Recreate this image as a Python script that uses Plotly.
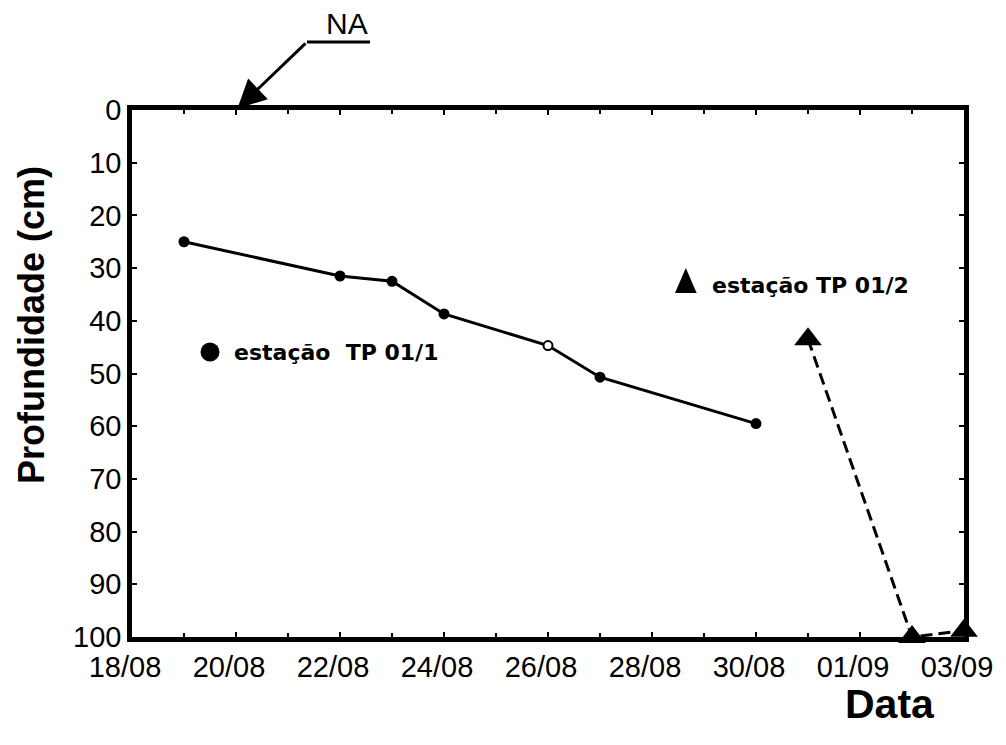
import plotly.graph_objects as go

YEAR = "2001"

# Station TP 01/1 (dd/mm, depth in cm)
tp1_dates = ["19/08", "22/08", "23/08", "24/08", "26/08", "27/08", "30/08"]
tp1_depth = [25.0, 31.5, 32.5, 38.7, 44.7, 50.7, 59.5]

# Station TP 01/2
tp2_dates = ["31/08", "02/09", "03/09"]
tp2_depth = [43.5, 100.0, 98.8]

x_start = "18/08"
x_end = "03/09"


def to_iso(dm):
    d, m = dm.split("/")
    return f"{YEAR}-{m}-{d}"


L, R, T, B = 132, 42, 110, 108
W, H = 1006, 745
PW, PH = W - L - R, H - T - B


def px(x):
    return (x - L) / PW


def py(y):
    return 1 - (y - T) / PH


fig = go.Figure()

fig.add_trace(go.Scatter(
    x=[to_iso(d) for d in tp1_dates], y=tp1_depth,
    mode="lines+markers",
    line=dict(color="black", width=3),
    marker=dict(symbol="circle", size=9,
                color=["black", "black", "black", "black", "white", "black", "black"],
                line=dict(color="black", width=2)),
    cliponaxis=False, showlegend=False,
))

fig.add_trace(go.Scatter(
    x=[to_iso(d) for d in tp2_dates], y=tp2_depth,
    mode="lines+markers",
    line=dict(color="black", width=3, dash="12px,6px"),
    marker=dict(symbol="triangle-up", size=24, color="black"),
    cliponaxis=False, showlegend=False,
))

tickfont = dict(family="Liberation Sans, Arial", size=29, color="black")

fig.update_xaxes(
    type="date", range=[to_iso(x_start), to_iso(x_end)],
    tick0=to_iso(x_start), dtick=2 * 86400000, tickformat="%d/%m",
    ticks="inside", ticklen=5, tickwidth=2, tickcolor="black",
    minor=dict(dtick=86400000, ticks="inside", ticklen=4, tickwidth=1.5, tickcolor="black"),
    showline=True, linewidth=4.5, linecolor="black", mirror="ticks",
    showgrid=False, zeroline=False, tickfont=tickfont, ticklabelshift=-7,
    layer="below traces",
)
fig.update_yaxes(
    range=[100, 0], tick0=0, dtick=10,
    ticks="inside", ticklen=5, tickwidth=2, tickcolor="black",
    showline=True, linewidth=4.5, linecolor="black", mirror="ticks",
    showgrid=False, zeroline=False, tickfont=tickfont,
    layer="below traces",
)

bold = dict(family="Liberation Sans, Arial", color="black")
annotations = [
    dict(text="<b>Profundidade (cm)</b>", xref="paper", yref="paper",
         x=px(31), y=py(325), textangle=-90, showarrow=False,
         xanchor="center", yanchor="middle", font=dict(size=36, **bold)),
    dict(text="<b>Data</b>", xref="paper", yref="paper",
         x=px(890), y=py(704), showarrow=False,
         xanchor="center", yanchor="middle", font=dict(size=41, **bold)),
    dict(text="NA", xref="paper", yref="paper",
         x=px(347), y=py(23), showarrow=False,
         xanchor="center", yanchor="middle",
         font=dict(family="Liberation Sans, Arial", size=30, color="black")),
    dict(text="", x=to_iso("20/08"), y=0, xref="x", yref="y",
         showarrow=True, ax=71, ay=-68, axref="pixel", ayref="pixel",
         arrowhead=2, arrowsize=1.9, arrowwidth=3, arrowcolor="black", standoff=2),
    dict(text="<b>estação  TP 01/1</b>", xref="paper", yref="paper",
         x=px(232), y=py(352), showarrow=False, xanchor="left", yanchor="middle",
         font=dict(family="DejaVu Sans", size=22, color="black")),
    dict(text="<b>estação TP 01/2</b>", xref="paper", yref="paper",
         x=px(710), y=py(285), showarrow=False, xanchor="left", yanchor="middle",
         font=dict(family="DejaVu Sans", size=22, color="black")),
]

shapes = [
    dict(type="line", xref="paper", yref="paper",
         x0=px(307), x1=px(370), y0=py(42), y1=py(42),
         line=dict(color="black", width=3)),
    dict(type="circle", xref="paper", yref="paper",
         x0=px(200.5), x1=px(219.5), y0=py(361.5), y1=py(342.5),
         fillcolor="black", line=dict(color="black", width=0)),
    dict(type="path", xref="paper", yref="paper",
         path=f"M {px(675)},{py(293)} L {px(696.7)},{py(293)} L {px(685.8)},{py(268)} Z",
         fillcolor="black", line=dict(color="black", width=0)),
]

fig.update_layout(
    width=W, height=H,
    margin=dict(l=L, r=R, t=T, b=B, autoexpand=False),
    paper_bgcolor="white", plot_bgcolor="white",
    annotations=annotations, shapes=shapes,
    showlegend=False,
)

fig.write_html("out.html")
